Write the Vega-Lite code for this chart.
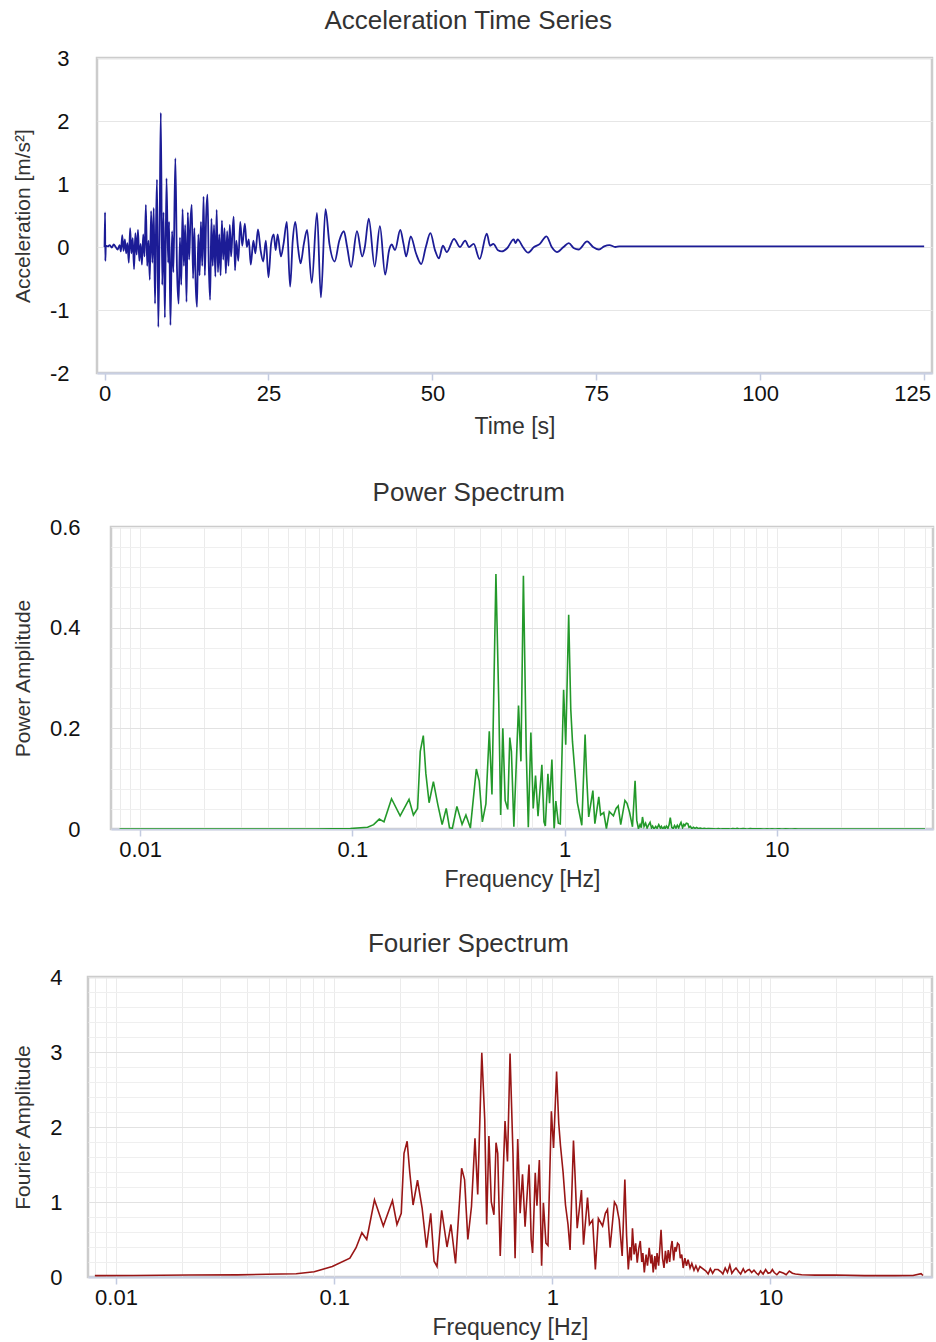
{
  "$schema": "https://vega.github.io/schema/vega-lite/v6.json",
  "padding": {"left": 4, "top": 6, "right": 4, "bottom": 0},
  "background": "white",
  "config": {
    "font": "Liberation Sans",
    "view": {"stroke": "#cccccc", "strokeWidth": 2.5},
    "axis": {"labelFontSize": 22, "titleFontSize": 21, "labelColor": "#111111", "titleColor": "#333333", "titleFontWeight": "normal", "tickColor": "#c3cbe0", "tickWidth": 1.5, "domain": false, "gridColor": "#e6e6e6"},
    "axisX": {"domain": true, "domainColor": "#c9d0e3", "domainWidth": 2, "tickSize": 7, "labelPadding": 3, "titlePadding": 8, "titleFontSize": 23},
    "axisY": {"ticks": false, "labelPadding": 28, "titlePadding": 16},
    "title": {"fontSize": 26, "fontWeight": "normal", "color": "#333333", "anchor": "middle", "frame": "bounds", "dx": -4}
  },
  "datasets": {
    "ts": [
      {"t":0,"a":0},{"t":0.08,"a":0.55},{"t":0.12,"a":-0.22},{"t":0.2,"a":0.02},{"t":0.5,"a":0.01},{"t":0.8,"a":0.03},{"t":1.1,"a":-0.01},{"t":1.4,"a":0.04},{"t":1.7,"a":0.0},{"t":2.0,"a":-0.04},{"t":2.3,"a":0.03},{"t":2.5,"a":-0.07},{"t":2.7,"a":0.19},{"t":2.9,"a":-0.06},{"t":3.1,"a":0.12},{"t":3.3,"a":-0.1},{"t":3.5,"a":0.06},{"t":3.7,"a":-0.25},{"t":3.9,"a":0.3},{"t":4.1,"a":-0.1},{"t":4.3,"a":0.14},{"t":4.5,"a":-0.35},{"t":4.7,"a":0.22},{"t":4.9,"a":-0.12},{"t":5.1,"a":0.27},{"t":5.3,"a":-0.22},{"t":5.5,"a":0.05},{"t":5.7,"a":-0.28},{"t":5.9,"a":0.2},{"t":6.1,"a":-0.15},{"t":6.3,"a":0.67},{"t":6.5,"a":-0.3},{"t":6.7,"a":0.1},{"t":6.9,"a":-0.52},{"t":7.1,"a":0.57},{"t":7.3,"a":-0.25},{"t":7.5,"a":0.62},{"t":7.7,"a":-0.9},{"t":7.85,"a":0.3},{"t":8.0,"a":1.07},{"t":8.2,"a":-1.27},{"t":8.4,"a":0.3},{"t":8.58,"a":2.13},{"t":8.8,"a":-0.6},{"t":9.0,"a":0.55},{"t":9.2,"a":-1.12},{"t":9.45,"a":1.09},{"t":9.7,"a":-0.25},{"t":9.85,"a":0.4},{"t":10.05,"a":-1.24},{"t":10.3,"a":0.25},{"t":10.5,"a":-0.4},{"t":10.8,"a":1.41},{"t":11.05,"a":-0.35},{"t":11.3,"a":-0.9},{"t":11.5,"a":0.15},{"t":11.7,"a":-0.6},{"t":11.9,"a":0.6},{"t":12.1,"a":-0.3},{"t":12.3,"a":0.35},{"t":12.5,"a":-0.87},{"t":12.7,"a":0.55},{"t":12.9,"a":-0.2},{"t":13.1,"a":0.4},{"t":13.3,"a":0.67},{"t":13.5,"a":-0.5},{"t":13.7,"a":0.3},{"t":13.9,"a":-0.6},{"t":14.1,"a":-0.95},{"t":14.3,"a":0.2},{"t":14.5,"a":-0.45},{"t":14.7,"a":0.4},{"t":14.9,"a":-0.3},{"t":15.1,"a":0.8},{"t":15.3,"a":-0.45},{"t":15.5,"a":0.5},{"t":15.7,"a":0.83},{"t":15.9,"a":-0.3},{"t":16.1,"a":-0.84},{"t":16.3,"a":0.45},{"t":16.5,"a":-0.3},{"t":16.7,"a":0.35},{"t":16.9,"a":-0.47},{"t":17.1,"a":0.59},{"t":17.3,"a":-0.4},{"t":17.5,"a":0.2},{"t":17.7,"a":-0.45},{"t":17.9,"a":0.42},{"t":18.1,"a":-0.2},{"t":18.3,"a":0.3},{"t":18.5,"a":-0.42},{"t":18.7,"a":0.25},{"t":18.9,"a":-0.3},{"t":19.1,"a":0.35},{"t":19.3,"a":-0.15},{"t":19.5,"a":0.2},{"t":19.7,"a":0.48},{"t":19.9,"a":-0.37},{"t":20.1,"a":0.1},{"t":20.4,"a":-0.22},{"t":20.7,"a":0.4},{"t":21.0,"a":0.02},{"t":21.4,"a":0.37},{"t":21.7,"a":0.0},{"t":22.0,"a":0.12},{"t":22.3,"a":-0.28},{"t":22.7,"a":0.1},{"t":23.0,"a":-0.1},{"t":23.4,"a":0.28},{"t":23.8,"a":-0.05},{"t":24.2,"a":-0.23},{"t":24.6,"a":0.1},{"t":25.0,"a":-0.48},{"t":25.4,"a":0.05},{"t":25.8,"a":0.2},{"t":26.1,"a":-0.05},{"t":26.4,"a":0.2},{"t":26.9,"a":-0.15},{"t":27.3,"a":0.05},{"t":27.8,"a":0.4},{"t":28.3,"a":-0.63},{"t":28.7,"a":0.1},{"t":29.1,"a":0.4},{"t":29.5,"a":0.0},{"t":29.9,"a":-0.26},{"t":30.4,"a":0.05},{"t":30.9,"a":0.27},{"t":31.6,"a":-0.57},{"t":32.4,"a":0.54},{"t":33.0,"a":-0.8},{"t":33.7,"a":0.6},{"t":34.3,"a":0.05},{"t":35.1,"a":-0.23},{"t":35.8,"a":0.1},{"t":36.5,"a":0.25},{"t":37.0,"a":0.0},{"t":37.6,"a":-0.32},{"t":38.5,"a":0.25},{"t":39.3,"a":-0.15},{"t":39.7,"a":0.0},{"t":40.3,"a":0.45},{"t":41.2,"a":-0.31},{"t":42.0,"a":0.33},{"t":42.8,"a":-0.44},{"t":43.4,"a":-0.05},{"t":43.8,"a":0.04},{"t":44.3,"a":-0.05},{"t":45.1,"a":0.27},{"t":45.6,"a":0.05},{"t":46.0,"a":-0.15},{"t":46.7,"a":0.17},{"t":47.5,"a":-0.1},{"t":48.3,"a":-0.27},{"t":49.0,"a":0.0},{"t":49.7,"a":0.22},{"t":50.4,"a":-0.05},{"t":51.0,"a":-0.18},{"t":51.6,"a":0.02},{"t":52.2,"a":-0.08},{"t":53.3,"a":0.13},{"t":54.2,"a":0.0},{"t":55.0,"a":0.1},{"t":55.6,"a":0.0},{"t":56.3,"a":0.05},{"t":57.2,"a":-0.19},{"t":58.3,"a":0.21},{"t":58.8,"a":0.02},{"t":59.3,"a":0.05},{"t":60.0,"a":-0.05},{"t":60.6,"a":-0.07},{"t":61.4,"a":-0.02},{"t":62.4,"a":0.12},{"t":62.7,"a":0.06},{"t":63.0,"a":0.12},{"t":63.8,"a":0.0},{"t":64.6,"a":-0.09},{"t":65.5,"a":0.0},{"t":66.4,"a":0.05},{"t":67.4,"a":0.17},{"t":68.2,"a":0.0},{"t":69.0,"a":-0.08},{"t":70.0,"a":0.0},{"t":70.8,"a":0.06},{"t":71.6,"a":-0.02},{"t":72.3,"a":-0.04},{"t":73.6,"a":0.09},{"t":74.5,"a":0.0},{"t":75.4,"a":-0.04},{"t":76.2,"a":0.01},{"t":77.0,"a":0.03},{"t":77.9,"a":0.0},{"t":78.5,"a":0.01},{"t":125,"a":0.01}
    ],
    "spec": [
      {"f":0.008,"F":0.018,"P":0.0},{"f":0.012,"F":0.02,"P":0.0},{"f":0.0216,"F":0.027,"P":0.0},{"f":0.036,"F":0.028,"P":0.0},{"f":0.049,"F":0.036,"P":0.0001},{"f":0.067,"F":0.044,"P":0.0001},{"f":0.081,"F":0.07,"P":0.0003},{"f":0.098,"F":0.14,"P":0.0011},{"f":0.118,"F":0.25,"P":0.0035},{"f":0.126,"F":0.39,"P":0.0086},{"f":0.134,"F":0.59,"P":0.0197},{"f":0.141,"F":0.5,"P":0.0142},{"f":0.153,"F":1.03,"P":0.0601},{"f":0.168,"F":0.68,"P":0.0262},{"f":0.185,"F":1.02,"P":0.0589},{"f":0.194,"F":0.7,"P":0.0278},{"f":0.203,"F":0.85,"P":0.0409},{"f":0.209,"F":1.65,"P":0.1542},{"f":0.216,"F":1.81,"P":0.1856},{"f":0.222,"F":1.4,"P":0.111},{"f":0.23,"F":0.96,"P":0.0522},{"f":0.241,"F":1.29,"P":0.0943},{"f":0.253,"F":0.92,"P":0.048},{"f":0.265,"F":0.39,"P":0.0086},{"f":0.277,"F":0.85,"P":0.0409},{"f":0.287,"F":0.21,"P":0.0025},{"f":0.296,"F":0.14,"P":0.0011},{"f":0.311,"F":0.89,"P":0.0449},{"f":0.329,"F":0.4,"P":0.0091},{"f":0.343,"F":0.7,"P":0.0278},{"f":0.36,"F":0.18,"P":0.0018},{"f":0.384,"F":1.45,"P":0.1191},{"f":0.396,"F":1.3,"P":0.0958},{"f":0.41,"F":0.5,"P":0.0142},{"f":0.426,"F":0.94,"P":0.05},{"f":0.442,"F":1.85,"P":0.1939},{"f":0.455,"F":1.1,"P":0.0686},{"f":0.475,"F":2.99,"P":0.5065},{"f":0.49,"F":2.1,"P":0.25},{"f":0.5,"F":0.7,"P":0.0278},{"f":0.512,"F":1.88,"P":0.2002},{"f":0.525,"F":1.0,"P":0.0567},{"f":0.54,"F":0.83,"P":0.039},{"f":0.552,"F":1.79,"P":0.1815},{"f":0.562,"F":1.65,"P":0.154},{"f":0.577,"F":0.28,"P":0.0044},{"f":0.607,"F":2.08,"P":0.2451},{"f":0.623,"F":1.54,"P":0.1344},{"f":0.64,"F":2.98,"P":0.5031},{"f":0.66,"F":1.65,"P":0.1542},{"f":0.675,"F":0.25,"P":0.0035},{"f":0.694,"F":1.84,"P":0.1918},{"f":0.712,"F":0.85,"P":0.0409},{"f":0.73,"F":1.37,"P":0.1063},{"f":0.75,"F":0.67,"P":0.0254},{"f":0.782,"F":1.5,"P":0.1275},{"f":0.8,"F":0.5,"P":0.0142},{"f":0.812,"F":0.32,"P":0.0058},{"f":0.835,"F":1.39,"P":0.1095},{"f":0.85,"F":0.95,"P":0.0511},{"f":0.872,"F":1.56,"P":0.1379},{"f":0.893,"F":0.15,"P":0.0013},{"f":0.91,"F":0.99,"P":0.0555},{"f":0.935,"F":0.45,"P":0.0115},{"f":0.955,"F":0.42,"P":0.01},{"f":0.99,"F":2.21,"P":0.2767},{"f":1.013,"F":1.72,"P":0.1676},{"f":1.046,"F":2.74,"P":0.4254},{"f":1.07,"F":2.05,"P":0.238},{"f":1.09,"F":1.75,"P":0.1735},{"f":1.12,"F":1.4,"P":0.111},{"f":1.149,"F":0.96,"P":0.0522},{"f":1.18,"F":0.7,"P":0.0278},{"f":1.206,"F":0.36,"P":0.0073},{"f":1.25,"F":1.82,"P":0.1877},{"f":1.27,"F":1.38,"P":0.1079},{"f":1.3,"F":0.65,"P":0.0239},{"f":1.36,"F":1.16,"P":0.0762},{"f":1.39,"F":0.43,"P":0.0105},{"f":1.45,"F":1.06,"P":0.0637},{"f":1.48,"F":0.7,"P":0.0278},{"f":1.53,"F":0.76,"P":0.0327},{"f":1.575,"F":0.1,"P":0.0006},{"f":1.626,"F":0.78,"P":0.0345},{"f":1.7,"F":0.68,"P":0.0262},{"f":1.75,"F":0.85,"P":0.0409},{"f":1.79,"F":0.9,"P":0.0459},{"f":1.84,"F":0.39,"P":0.0086},{"f":1.926,"F":1.0,"P":0.0567},{"f":1.97,"F":0.95,"P":0.0511},{"f":2.026,"F":0.76,"P":0.0327},{"f":2.09,"F":0.28,"P":0.0044},
      {"f":2.15,"F":1.3,"P":0.0958},{"f":2.19,"F":0.55,"P":0.0171},{"f":2.23,"F":0.1,"P":0.0006},{"f":2.27,"F":0.4,"P":0.0091},{"f":2.3,"F":0.22,"P":0.0027},{"f":2.33,"F":0.65,"P":0.0239},{"f":2.37,"F":0.3,"P":0.0051},{"f":2.41,"F":0.45,"P":0.0115},{"f":2.45,"F":0.19,"P":0.002},{"f":2.49,"F":0.38,"P":0.0082},{"f":2.53,"F":0.48,"P":0.0131},{"f":2.57,"F":0.2,"P":0.0023},{"f":2.6,"F":0.32,"P":0.0058},{"f":2.64,"F":0.06,"P":0.0002},{"f":2.69,"F":0.3,"P":0.0051},{"f":2.73,"F":0.15,"P":0.0013},{"f":2.78,"F":0.39,"P":0.0086},{"f":2.83,"F":0.18,"P":0.0018},{"f":2.86,"F":0.3,"P":0.0051},{"f":2.9,"F":0.06,"P":0.0002},{"f":2.95,"F":0.28,"P":0.0044},{"f":2.98,"F":0.1,"P":0.0006},{"f":3.02,"F":0.32,"P":0.0058},{"f":3.07,"F":0.15,"P":0.0013},{"f":3.11,"F":0.38,"P":0.0082},{"f":3.15,"F":0.63,"P":0.0225},{"f":3.2,"F":0.25,"P":0.0035},{"f":3.25,"F":0.12,"P":0.0008},{"f":3.3,"F":0.35,"P":0.0069},{"f":3.35,"F":0.18,"P":0.0018},{"f":3.4,"F":0.36,"P":0.0073},{"f":3.45,"F":0.2,"P":0.0023},{"f":3.5,"F":0.4,"P":0.0091},{"f":3.54,"F":0.48,"P":0.0131},{"f":3.6,"F":0.22,"P":0.0027},{"f":3.65,"F":0.4,"P":0.0091},{"f":3.69,"F":0.34,"P":0.0065},{"f":3.75,"F":0.45,"P":0.0115},{"f":3.81,"F":0.43,"P":0.0105},{"f":3.86,"F":0.25,"P":0.0035},{"f":3.92,"F":0.3,"P":0.0051},{"f":3.98,"F":0.12,"P":0.0008},{"f":4.05,"F":0.25,"P":0.0035},{"f":4.12,"F":0.15,"P":0.0013},{"f":4.19,"F":0.23,"P":0.003},{"f":4.28,"F":0.12,"P":0.0008},{"f":4.36,"F":0.18,"P":0.0018},{"f":4.46,"F":0.09,"P":0.0005},{"f":4.55,"F":0.15,"P":0.0013},{"f":4.65,"F":0.08,"P":0.0004},{"f":4.75,"F":0.14,"P":0.0011},
      {"f":5.06,"F":0.08,"P":0.0004},{"f":5.18,"F":0.04,"P":0.0001},{"f":5.3,"F":0.11,"P":0.0007},{"f":5.43,"F":0.05,"P":0.0001},{"f":5.56,"F":0.1,"P":0.0006},{"f":5.75,"F":0.1,"P":0.0006},{"f":5.93,"F":0.07,"P":0.0003},{"f":6.05,"F":0.04,"P":0.0001},{"f":6.2,"F":0.12,"P":0.0008},{"f":6.35,"F":0.06,"P":0.0002},{"f":6.51,"F":0.16,"P":0.0015},{"f":6.65,"F":0.05,"P":0.0001},{"f":6.8,"F":0.09,"P":0.0005},{"f":6.95,"F":0.12,"P":0.0008},{"f":7.15,"F":0.07,"P":0.0003},{"f":7.3,"F":0.04,"P":0.0001},{"f":7.5,"F":0.11,"P":0.0007},{"f":7.65,"F":0.06,"P":0.0002},{"f":7.85,"F":0.09,"P":0.0005},{"f":8.0,"F":0.1,"P":0.0006},{"f":8.2,"F":0.06,"P":0.0002},{"f":8.4,"F":0.09,"P":0.0005},{"f":8.63,"F":0.05,"P":0.0001},{"f":8.8,"F":0.03,"P":0.0001},{"f":9.0,"F":0.08,"P":0.0004},{"f":9.25,"F":0.04,"P":0.0001},{"f":9.5,"F":0.1,"P":0.0006},{"f":9.75,"F":0.05,"P":0.0001},{"f":10.0,"F":0.06,"P":0.0002},{"f":10.2,"F":0.1,"P":0.0006},{"f":10.4,"F":0.06,"P":0.0002},{"f":10.7,"F":0.03,"P":0.0001},{"f":11.0,"F":0.07,"P":0.0003},{"f":11.5,"F":0.05,"P":0.0001},{"f":11.8,"F":0.03,"P":0.0001},{"f":12.2,"F":0.08,"P":0.0004},{"f":12.6,"F":0.05,"P":0.0001},{"f":13.0,"F":0.04,"P":0.0001},{"f":13.9,"F":0.03,"P":0.0001},{"f":16.0,"F":0.025,"P":0.0},{"f":19.7,"F":0.027,"P":0.0},{"f":27.0,"F":0.018,"P":0.0},{"f":37.0,"F":0.018,"P":0.0},{"f":45.0,"F":0.02,"P":0.0},{"f":49.0,"F":0.044,"P":0.0001},{"f":50.0,"F":0.02,"P":0.0}
    ]
  },
  "vconcat": [
    {
      "hconcat": [
        {"width": 1, "height": 1, "data": {"values": [{"s": 0}]}, "mark": {"type": "point", "opacity": 0}, "encoding": {}, "view": {"stroke": null}},
        {
          "title": {"text": "Acceleration Time Series", "offset": 13},
          "width": 835,
          "height": 315,
          "data": {"name": "ts"},
          "mark": {"type": "line", "color": "#1c1c96", "strokeWidth": 1.8, "clip": true, "interpolate": "monotone"},
          "encoding": {
            "x": {"field": "t", "type": "quantitative", "scale": {"domain": [-1.15, 126.2], "nice": false, "zero": false},
                  "axis": {"title": "Time [s]", "values": [0, 25, 50, 75, 100, 125], "grid": false, "titlePadding": 11,
                           "labelOffset": {"condition": {"test": "datum.value == 125", "value": -12}, "value": 0}}},
            "y": {"field": "a", "type": "quantitative", "scale": {"domain": [-2, 3], "nice": false},
                  "axis": {"title": "Acceleration [m/s²]", "values": [-2, -1, 0, 1, 2, 3], "grid": true, "labelPadding": 28,
                           "labelExpr": "'' + datum.value"}}
          }
        }
      ],
      "spacing": 0
    },
    {
      "vconcat": [
        {
          "hconcat": [
            {"width": 1, "height": 1, "data": {"values": [{"s": 0}]}, "mark": {"type": "point", "opacity": 0}, "encoding": {}, "view": {"stroke": null}},
            {
              "title": {"text": "Power Spectrum", "offset": 10},
              "width": 822,
              "height": 302,
              "data": {"name": "spec"},
              "mark": {"type": "line", "color": "#23992a", "strokeWidth": 1.6, "clip": true},
              "encoding": {
                "x": {"field": "f", "type": "quantitative", "scale": {"type": "log", "domain": [0.00729, 54.5], "nice": false},
                      "axis": {"title": "Frequency [Hz]",
                               "values": [0.008,0.009,0.01,0.02,0.03,0.04,0.05,0.06,0.07,0.08,0.09,0.1,0.2,0.3,0.4,0.5,0.6,0.7,0.8,0.9,1,2,3,4,5,6,7,8,9,10,20,30,40,50],
                               "labelExpr": "datum.value == 0.01 ? '0.01' : datum.value == 0.1 ? '0.1' : datum.value == 1 ? '1' : datum.value == 10 ? '10' : ''",
                               "tickOpacity": {"condition": {"test": "datum.value == 0.01 || datum.value == 0.1 || datum.value == 1 || datum.value == 10", "value": 1}, "value": 0},
                               "grid": true, "gridColor": "#ebebeb"}},
                "y": {"field": "P", "type": "quantitative", "scale": {"domain": [0, 0.6], "nice": false},
                      "axis": {"title": "Power Amplitude", "labelPadding": 31,
                               "values": [0,0.04,0.08,0.12,0.16,0.2,0.24,0.28,0.32,0.36,0.4,0.44,0.48,0.52,0.56,0.6],
                               "labelExpr": "datum.value == 0 ? '0' : datum.value == 0.2 ? '0.2' : datum.value == 0.4 ? '0.4' : datum.value == 0.6 ? '0.6' : ''",
                               "grid": true,
                               "gridColor": {"condition": {"test": "datum.value == 0.2 || datum.value == 0.4", "value": "#e2e2e2"}, "value": "#efefef"}}}
              }
            }
          ],
          "spacing": 0
        },
        {
          "hconcat": [
            {"width": 1, "height": 1, "data": {"values": [{"s": 0}]}, "mark": {"type": "point", "opacity": 0}, "encoding": {}, "view": {"stroke": null}},
            {
              "title": {"text": "Fourier Spectrum", "offset": 9},
              "width": 844,
              "height": 300,
              "data": {"name": "spec"},
              "mark": {"type": "line", "color": "#991616", "strokeWidth": 1.6, "clip": true},
              "encoding": {
                "x": {"field": "f", "type": "quantitative", "scale": {"type": "log", "domain": [0.00744, 55], "nice": false},
                      "axis": {"title": "Frequency [Hz]",
                               "values": [0.008,0.009,0.01,0.02,0.03,0.04,0.05,0.06,0.07,0.08,0.09,0.1,0.2,0.3,0.4,0.5,0.6,0.7,0.8,0.9,1,2,3,4,5,6,7,8,9,10,20,30,40,50],
                               "labelExpr": "datum.value == 0.01 ? '0.01' : datum.value == 0.1 ? '0.1' : datum.value == 1 ? '1' : datum.value == 10 ? '10' : ''",
                               "tickOpacity": {"condition": {"test": "datum.value == 0.01 || datum.value == 0.1 || datum.value == 1 || datum.value == 10", "value": 1}, "value": 0},
                               "grid": true, "gridColor": "#ebebeb"}},
                "y": {"field": "F", "type": "quantitative", "scale": {"domain": [0, 4], "nice": false},
                      "axis": {"title": "Fourier Amplitude", "labelPadding": 26,
                               "values": [0,0.2,0.4,0.6,0.8,1,1.2,1.4,1.6,1.8,2,2.2,2.4,2.6,2.8,3,3.2,3.4,3.6,3.8,4],
                               "labelExpr": "floor(datum.value) == datum.value ? '' + datum.value : ''",
                               "grid": true,
                               "gridColor": {"condition": {"test": "floor(datum.value) == datum.value", "value": "#e2e2e2"}, "value": "#efefef"}}}
              }
            }
          ],
          "spacing": 0
        }
      ],
      "spacing": 36
    }
  ],
  "spacing": 38
}
